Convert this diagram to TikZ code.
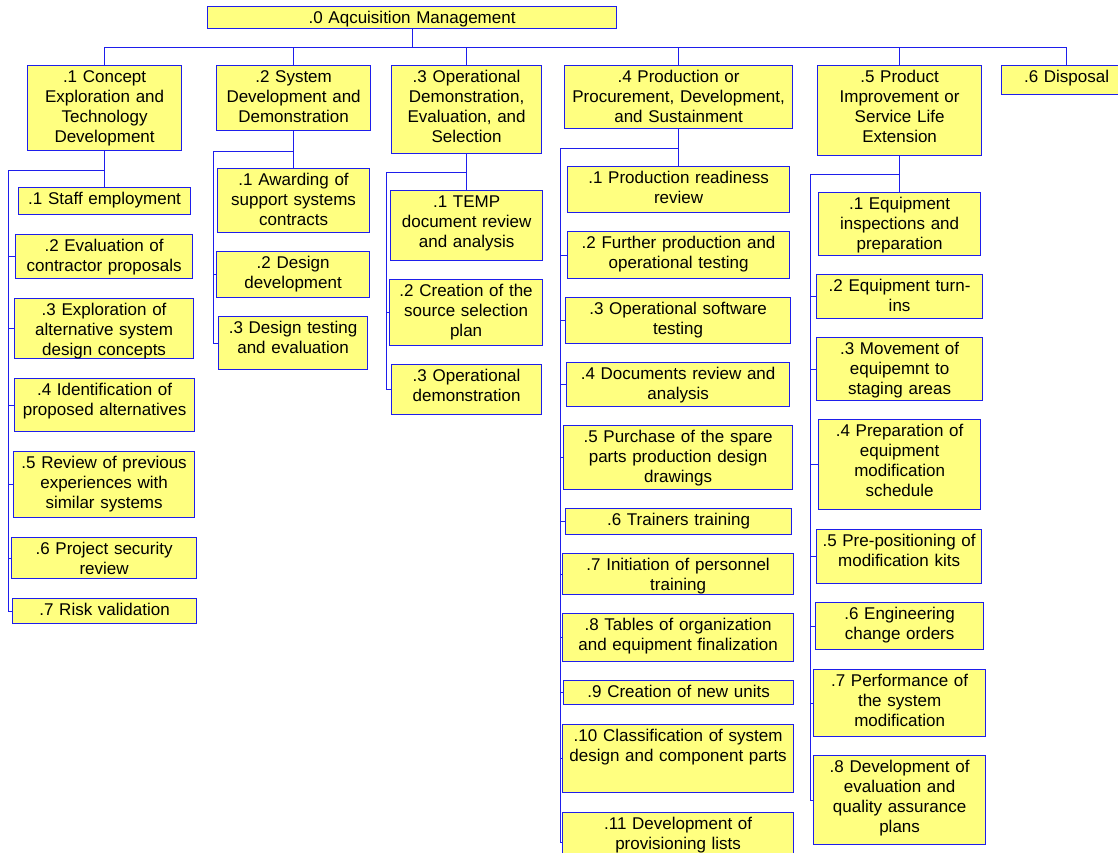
\documentclass[tikz,border=0pt]{standalone}
\usepackage{xcolor}
\usepackage{tikz}
\usepackage{fontspec}
\setmainfont{Liberation Sans}
\definecolor{wbsblue}{RGB}{30, 30, 235}
\definecolor{wbsyellow}{RGB}{255, 255, 128}
\newcommand{\wbsfont}{\fontsize{17pt}{20pt}\selectfont}
\usetikzlibrary{positioning, calc}

\tikzset{
    wbsbox/.style={draw=wbsblue, fill=wbsyellow, line width=1.2pt, inner sep=0pt,
                   anchor=north west, align=center, font=\wbsfont, text height=17pt},
    wbsdim/.code 2 args={%
        \pgfmathsetmacro\wbsdepth{#2-17}%
        \edef\wbsargs{minimum width=#1pt, text width=#1pt, text depth=\wbsdepth pt}%
        \expandafter\pgfkeysalso\expandafter{\wbsargs}%
    },
    link/.style={draw=wbsblue, line width=1pt}
}

\begin{document}
\begin{tikzpicture}[x=1pt, y=-1pt]
        \useasboundingbox (0,0) rectangle (1118,852);
        \clip (0,0) rectangle (1118,852);

        \node[wbsbox, wbsdim={409}{22}] (top) at (207,6) {.0 Aqcuisition Management};

        \node[wbsbox, wbsdim={154}{85}] (c1) at (27,65) {.1 Concept\\Exploration and\\Technology\\Development};
        \node[wbsbox, wbsdim={154}{65}] (c2) at (216,65) {.2 System\\Development and\\Demonstration};
        \node[wbsbox, wbsdim={150}{88}] (c3) at (391,65) {.3 Operational\\Demonstration,\\Evaluation, and\\Selection};
        \node[wbsbox, wbsdim={228}{63}] (c4) at (564,65) {.4 Production or\\Procurement, Development,\\and Sustainment};
        \node[wbsbox, wbsdim={164}{90}] (c5) at (817,65) {.5 Product\\Improvement or\\Service Life\\Extension};
        \node[wbsbox, wbsdim={130}{29}] (c6) at (1001,65) {.6 Disposal};

        \node[wbsbox, wbsdim={172}{27}] (c1-1) at (18,187) {.1 Staff employment};
        \node[wbsbox, wbsdim={177}{44}] (c1-2) at (15,234) {.2 Evaluation of\\contractor proposals};
        \node[wbsbox, wbsdim={179}{60}] (c1-3) at (14,298) {.3 Exploration of\\alternative system\\design concepts};
        \node[wbsbox, wbsdim={180}{53}] (c1-4) at (14,378) {.4 Identification of\\proposed alternatives};
        \node[wbsbox, wbsdim={181}{66}] (c1-5) at (13,451) {.5 Review of previous\\experiences with\\similar systems};
        \node[wbsbox, wbsdim={185}{41}] (c1-6) at (11,537) {.6 Project security\\review};
        \node[wbsbox, wbsdim={184}{25}] (c1-7) at (12,598) {.7 Risk validation};

        \node[wbsbox, wbsdim={152}{64}] (c2-1) at (217,168) {.1 Awarding of\\support systems\\contracts};
        \node[wbsbox, wbsdim={153}{46}] (c2-2) at (216,251) {.2 Design\\development};
        \node[wbsbox, wbsdim={149}{53}] (c2-3) at (218,316) {.3 Design testing\\and evaluation};

        \node[wbsbox, wbsdim={152}{70}] (c3-1) at (390,190) {.1 TEMP\\document review\\and analysis};
        \node[wbsbox, wbsdim={153}{66}] (c3-2) at (389,279) {.2 Creation of the\\source selection\\plan};
        \node[wbsbox, wbsdim={150}{50}] (c3-3) at (391,364) {.3 Operational\\demonstration};

        \node[wbsbox, wbsdim={222}{46}] (c4-1) at (567,166) {.1 Production readiness\\review};
        \node[wbsbox, wbsdim={222}{47}] (c4-2) at (567,231) {.2 Further production and\\operational testing};
        \node[wbsbox, wbsdim={225}{46}] (c4-3) at (565,297) {.3 Operational software\\testing};
        \node[wbsbox, wbsdim={223}{44}] (c4-4) at (566,362) {.4 Documents review and\\analysis};
        \node[wbsbox, wbsdim={229}{64}] (c4-5) at (563,425) {.5 Purchase of the spare\\parts production design\\drawings};
        \node[wbsbox, wbsdim={226}{26}] (c4-6) at (565,508) {.6 Trainers training};
        \node[wbsbox, wbsdim={231}{41}] (c4-7) at (562,553) {.7 Initiation of personnel\\training};
        \node[wbsbox, wbsdim={231}{48}] (c4-8) at (562,613) {.8 Tables of organization\\and equipment finalization};
        \node[wbsbox, wbsdim={230}{24}] (c4-9) at (563,680) {.9 Creation of new units};
        \node[wbsbox, wbsdim={231}{68}] (c4-10) at (562,724) {.10 Classification of system\\design and component parts};
        \node[wbsbox, wbsdim={231}{60}] (c4-11) at (562,812) {.11 Development of\\provisioning lists};

        \node[wbsbox, wbsdim={162}{63}] (c5-1) at (818,192) {.1 Equipment\\inspections and\\preparation};
        \node[wbsbox, wbsdim={166}{44}] (c5-2) at (816,274) {.2 Equipment turn-\\ins};
        \node[wbsbox, wbsdim={166}{63}] (c5-3) at (816,337) {.3 Movement of\\equipemnt to\\staging areas};
        \node[wbsbox, wbsdim={162}{90}] (c5-4) at (818,419) {.4 Preparation of\\equipment\\modification\\schedule};
        \node[wbsbox, wbsdim={165}{54}] (c5-5) at (816,529) {.5 Pre-positioning of\\modification kits};
        \node[wbsbox, wbsdim={168}{47}] (c5-6) at (815,602) {.6 Engineering\\change orders};
        \node[wbsbox, wbsdim={172}{67}] (c5-7) at (813,669) {.7 Performance of\\the system\\modification};
        \node[wbsbox, wbsdim={172}{89}] (c5-8) at (813,755) {.8 Development of\\evaluation and\\quality assurance\\plans};

        \coordinate (bus) at (412,47);
        \coordinate (r1) at (8,170);
        \coordinate (r2) at (213,151);
        \coordinate (r3) at (386,172);
        \coordinate (r4) at (560,148);
        \coordinate (r5) at (810,174);

        \draw[link] (top.south) -- (top.south |- bus);
        \draw[link] (c1.north |- bus) -- (c6.north |- bus);
        \foreach \c in {1,...,6}
            \draw[link] (c\c.north) -- (c\c.north |- bus);

        \foreach \c/\last in {1/7, 2/3, 3/3, 4/11, 5/8} {
            \draw[link] (c\c.south) -- (c\c-1.north);
            \draw[link] (c\c.south |- r\c) -- (r\c) |- (c\c-\last.west);
            \foreach \i in {2,...,\last}
                \draw[link] (r\c |- c\c-\i.west) -- (c\c-\i.west);
        }
    \end{tikzpicture}
\end{document}
